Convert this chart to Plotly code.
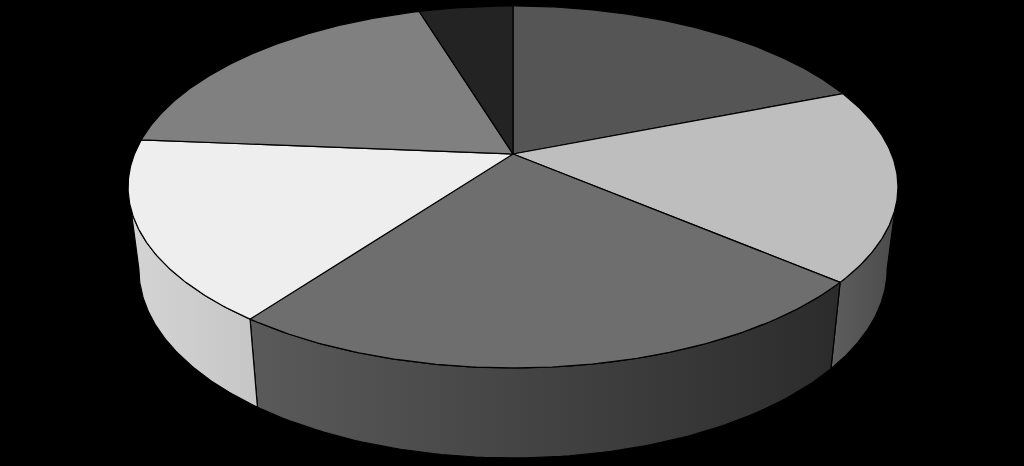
import numpy as np
import plotly.graph_objects as go

# share of each slice, clockwise from 12 o'clock
valores = [19, 17.2, 23.9, 16.2, 19, 4.7]
cores_topo = ['#555555', '#bebebe', '#6e6e6e', '#eeeeee', '#808080', '#232323']
cores_lado_esq = ['#4a4a4a', '#5e5e5e', '#5a5a5a', '#d4d4d4', '#808080', '#232323']
cores_lado_dir = ['#4a4a4a', '#4a4a4a', '#2b2b2b', '#c6c6c6', '#808080', '#232323']

# perspective of the disc, in screen pixels
cx, cy = 513, 154
raio_x, raio_y = 378.5, 175
k = 0.182
encolhe_base = 0.972
altura, altura_extra = 80, 10

# angles where the rim meets the silhouette
lado_ini = np.degrees(np.arctan2(np.sqrt(1 - k**2), -k))
lado_fim = 360 - lado_ini


def topo(ang):
    a = np.radians(ang)
    u, v = np.sin(a), np.cos(a)
    w = 1 + k * v
    return cx + raio_x * u / w, cy - raio_y * v / w


def base(ang):
    x, y = topo(ang)
    v = np.cos(np.radians(ang))
    return cx + encolhe_base * (x - cx), y + altura - altura_extra * v


fig = go.Figure()

limites = np.cumsum([0] + valores) / sum(valores) * 360

# side walls first, so the top sits over them
for i in range(len(valores)):
    ini = max(limites[i], lado_ini)
    fim = min(limites[i + 1], lado_fim)
    if ini >= fim:
        continue
    angs = np.linspace(ini, fim, 80)
    xt, yt = topo(angs)
    xb, yb = base(angs[::-1])
    fig.add_trace(go.Scatter(
        x=np.r_[xt, xb, xt[0]], y=np.r_[yt, yb, yt[0]],
        mode='lines', fill='toself',
        line=dict(color='black', width=1.2),
        fillgradient=dict(
            type='horizontal',
            colorscale=[[0, cores_lado_esq[i]], [1, cores_lado_dir[i]]],
        ),
        hoverinfo='skip', showlegend=False,
    ))

for i in range(len(valores)):
    angs = np.linspace(limites[i], limites[i + 1], 120)
    xt, yt = topo(angs)
    fig.add_trace(go.Scatter(
        x=np.r_[cx, xt, cx], y=np.r_[cy, yt, cy],
        mode='lines', fill='toself',
        fillcolor=cores_topo[i],
        line=dict(color='black', width=1.2),
        hoverinfo='skip', showlegend=False,
    ))

fig.update_layout(
    width=1024, height=466,
    margin=dict(l=0, r=0, t=0, b=0),
    paper_bgcolor='black', plot_bgcolor='black',
    showlegend=False,
)
fig.update_xaxes(range=[0, 1024], visible=False)
fig.update_yaxes(range=[466, 0], visible=False)

# the page's default body margin would push the chart 8px in
fig.write_html(
    "out.html",
    config=dict(displayModeBar=False),
    post_script="document.body.style.margin='0';document.body.style.background='black';document.body.style.overflow='hidden';",
)
